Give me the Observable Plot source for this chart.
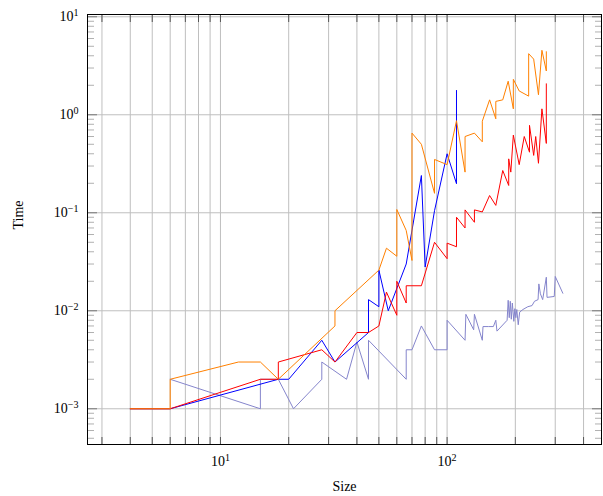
<!DOCTYPE html>
<html><head><meta charset="utf-8">
<script src="https://cdn.jsdelivr.net/npm/d3@7"></script>
<script src="https://cdn.jsdelivr.net/npm/@observablehq/plot@0.6"></script>
<style>body{margin:0;background:#fff} #chart svg{display:block}</style>
</head><body><div id="chart"></div>
<script>
// ---- data ----
const blueSize = [4,6,18,20,28,32,45,45,50,50,55,66,77,80,88,100,110,110];
const blueTime = [0.001,0.001,0.002,0.002,0.005,0.003,0.006,0.013,0.011,0.026,0.010,0.030,0.24,0.028,0.105,0.40,0.198,1.77];

const redSize = [4,6,15,18,18,28,32,40,45,50,54,60,60,66,66,77,88,100,100,110,110,120,120,132,132,143,154,164,176,187,187,191,196,208,219,231,231,241,246,253,262,274,274];
const redTime = [0.001,0.001,0.002,0.002,0.003,0.004,0.003,0.006,0.006,0.007,0.0155,0.009,0.020,0.012,0.018,0.018,0.050,0.034,0.049,0.045,0.090,0.070,0.107,0.080,0.107,0.102,0.150,0.119,0.27,0.19,0.355,0.26,0.62,0.31,0.60,0.415,0.78,0.385,0.60,0.32,1.15,0.51,2.07];

const orangeSize = [4,6,6,12,15,18,32,32,50,54,60,60,66,70,70,77,88,88,100,110,120,120,132,143,143,154,164,164,176,186,196,196,208,229,229,241,253,262,274,274];
const orangeTime = [0.001,0.001,0.002,0.003,0.003,0.002,0.007,0.010,0.026,0.0435,0.036,0.108,0.066,0.0326,0.65,0.50,0.158,0.35,0.31,0.87,0.26,0.60,0.65,0.53,0.86,1.42,0.91,1.37,1.42,2.2,1.15,2.3,1.75,1.55,4.2,3.7,1.6,4.55,2.8,4.4];

const purpleSize = [6,15,15,18,21,28,28,36,40,45,45,66,66,70,77,88,100,100,120,121,131,132,143,144,152,160,164,166,184,186,188,190,192,194,197,199,201,203,206,209,216,227,237,243,252,254,258,264,274,276,297,300,324];
const purpleTime = [0.002,0.001,0.002,0.002,0.001,0.002,0.003,0.002,0.0048,0.002,0.005,0.002,0.004,0.004,0.007,0.004,0.004,0.008,0.005,0.0092,0.0064,0.0092,0.005,0.0069,0.0069,0.0069,0.008,0.0062,0.008,0.0128,0.0085,0.0125,0.0082,0.012,0.0078,0.0105,0.0085,0.0103,0.0072,0.0097,0.0103,0.011,0.0113,0.0125,0.013,0.0188,0.0149,0.013,0.022,0.0137,0.014,0.0224,0.0151];

const xMajorTicks = [10, 100];
const xMinorTicks = [3,4,5,6,7,8,9,20,30,40,50,60,70,80,90,200,300,400];
const yMajorTicks = [1e-3, 1e-2, 1e-1, 1, 10];
const yMinorTicks = [5e-4,6e-4,7e-4,8e-4,9e-4, 2e-3,3e-3,4e-3,5e-3,6e-3,7e-3,8e-3,9e-3,
  2e-2,3e-2,4e-2,5e-2,6e-2,7e-2,8e-2,9e-2, 0.2,0.3,0.4,0.5,0.6,0.7,0.8,0.9, 2,3,4,5,6,7,8,9];

const rows = (xs, ys) => xs.map((x, i) => ({x, y: ys[i]}));
const expFmt = v => "10^" + Math.round(Math.log10(v));

const font = "'Liberation Serif', 'DejaVu Serif', serif";
const xAll = [...xMinorTicks, ...xMajorTicks];

const chart = Plot.plot({
  width: 603, height: 496,
  marginLeft: 87, marginRight: 2, marginTop: 14, marginBottom: 52,
  style: {fontFamily: font, fontSize: "14px", background: "#fff", color: "#000"},
  x: {type: "log", domain: [2.59, 480]},
  y: {type: "log", domain: [4.32e-4, 10.55]},
  marks: [
    Plot.ruleX(xAll, {stroke: "#bfbfbf", strokeWidth: 1}),
    Plot.ruleY(yMajorTicks, {stroke: "#bfbfbf", strokeWidth: 1}),
    Plot.line(rows(purpleSize, purpleTime), {x: "x", y: "y", stroke: "#8585cc", strokeWidth: 1}),
    Plot.line(rows(blueSize, blueTime), {x: "x", y: "y", stroke: "#0000ff", strokeWidth: 1}),
    Plot.line(rows(redSize, redTime), {x: "x", y: "y", stroke: "#ff0000", strokeWidth: 1}),
    Plot.line(rows(orangeSize, orangeTime), {x: "x", y: "y", stroke: "#ff8000", strokeWidth: 1}),
    // inward ticks
    Plot.axisX(xAll, {anchor: "bottom", tickSize: -7, stroke: "#555", tickFormat: () => "", label: null}),
    Plot.axisX(xAll, {anchor: "top", tickSize: -7, stroke: "#555", tickFormat: () => "", label: null}),
    Plot.axisY(yMinorTicks, {anchor: "left", tickSize: -7, stroke: "#b0b0b0", tickFormat: () => "", label: null}),
    Plot.axisY(yMinorTicks, {anchor: "right", tickSize: -7, stroke: "#b0b0b0", tickFormat: () => "", label: null}),
    Plot.axisY(yMajorTicks, {anchor: "left", tickSize: -10, stroke: "#777", tickFormat: () => "", label: null}),
    Plot.axisY(yMajorTicks, {anchor: "right", tickSize: -10, stroke: "#777", tickFormat: () => "", label: null}),
    // labels
    Plot.axisX(xMajorTicks, {anchor: "bottom", tickSize: 0, tickPadding: 12, tickFormat: expFmt, fontSize: 14, label: null}),
    Plot.axisY(yMajorTicks, {anchor: "left", tickSize: 0, tickPadding: 9, tickFormat: expFmt, fontSize: 14, label: null}),
    Plot.frame({stroke: "#000", strokeWidth: 1}),
    Plot.text(["Size"], {frameAnchor: "bottom", dy: 46, fontSize: 14, fill: "#000"}),
    Plot.text(["Time"], {frameAnchor: "left", dx: -69, rotate: -90, fontSize: 14, fill: "#000"})
  ]
});

// superscripts for tick labels
d3.select(chart).selectAll("text").each(function() {
  const t = this.textContent;
  const m = /^10\^(-?\d+)$/.exec(t);
  if (!m) return;
  const e = m[1].replace("-", "\u2212");
  const sel = d3.select(this);
  sel.text(null);
  sel.append("tspan").text("10");
  sel.append("tspan").attr("dy", "-0.5em").attr("font-size", "0.72em").text(e);
});

document.getElementById("chart").appendChild(chart);
</script>
</body></html>
